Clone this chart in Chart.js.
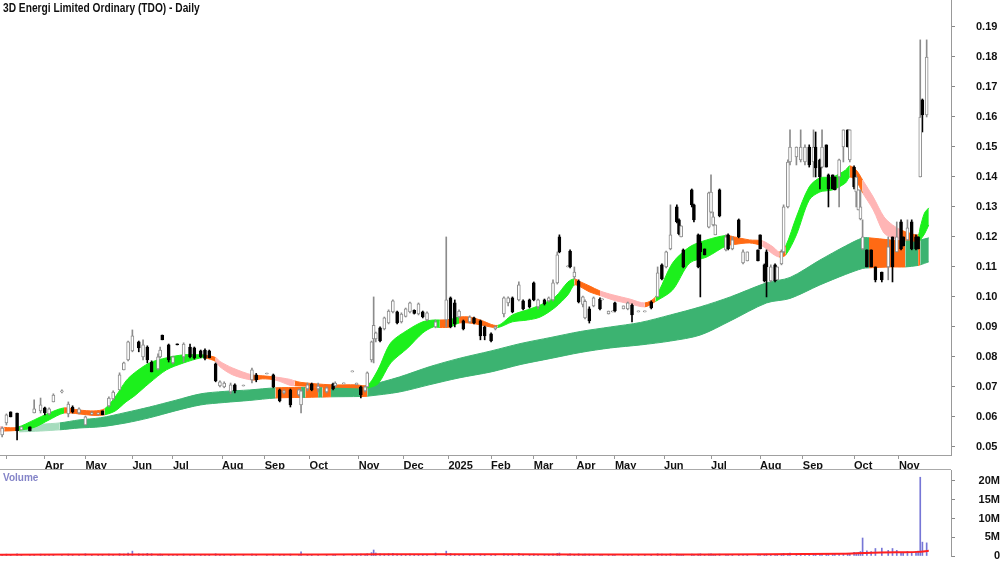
<!DOCTYPE html>
<html lang="en">
<head>
<meta charset="UTF-8">
<title>3D Energi Limited Ordinary (TDO) - Daily</title>
<style>
  body { margin: 0; background: #fff; }
  #wrap { position: relative; width: 1000px; height: 562px; font-family: "Liberation Sans", Arial, sans-serif; overflow: hidden; }
  #priceBox { position: absolute; left: 0; top: 0; width: 1000px; height: 470px; }
  #volBox { position: absolute; left: 0; top: 470px; width: 1000px; height: 92px; }
  #sep { position: absolute; left: 0; top: 469px; width: 951px; height: 1px; background: #aaa; }
  #title { position: absolute; left: 3px; top: 1px; font-weight: bold; font-size: 12px; line-height: 14px; color: #111;
           white-space: nowrap; transform: scaleX(0.85); transform-origin: left top; }
  #volTitle { position: absolute; left: 3px; top: 472px; font-weight: bold; font-size: 10px; color: #8484c8; }
</style>
</head>
<body>
<div id="wrap">
  <div id="priceBox"><canvas id="priceChart" width="1000" height="470"></canvas></div>
  <div id="sep"></div>
  <div id="volBox"><canvas id="volChart" width="1000" height="92"></canvas></div>
  <div id="title">3D Energi Limited Ordinary (TDO) - Daily</div>
  <div id="volTitle">Volume</div>
</div>

<script src="https://cdn.jsdelivr.net/npm/chart.js@4.4.1/dist/chart.umd.min.js"></script>
<script>
// ---- month axis (trading-day index) ----
var monthDays   = [3, 21, 40, 62, 81, 104, 124, 145, 168, 189, 210, 230, 250, 270, 288, 311, 333, 356, 376, 400, 421];
var monthLabels = ['', 'Apr', 'May', 'Jun', 'Jul', 'Aug', 'Sep', 'Oct', 'Nov', 'Dec', '2025', 'Feb', 'Mar', 'Apr', 'May', 'Jun', 'Jul', 'Aug', 'Sep', 'Oct', 'Nov'];
var priceTicks  = [0.05, 0.06, 0.07, 0.08, 0.09, 0.10, 0.11, 0.12, 0.13, 0.14, 0.15, 0.16, 0.17, 0.18, 0.19];
var volTicks    = [0, 5, 10, 15, 20];   // millions

// ---- daily bars ----
var candleDay = [
  1,3,5,8,10,14,16,19,21,23,
  25,29,32,34,37,40,43,46,48,51,
  53,56,58,60,62,65,67,69,71,74,
  75,76,79,81,83,86,89,91,94,96,
  98,101,103,105,108,110,114,118,120,125,
  128,131,133,136,140,141,144,146,149,153,
  156,157,161,165,167,169,171,172,174,175,
  176,178,180,182,184,186,188,190,192,194,
  196,198,200,204,209,211,213,215,217,220,
  222,225,227,230,232,236,238,240,243,245,
  248,250,252,255,257,259,261,262,266,267,
  269,271,273,274,276,278,281,282,285,287,
  288,292,294,296,299,302,305,308,310,312,
  314,317,318,319,320,324,325,327,328,330,
  332,333,334,335,337,340,341,343,346,348,
  350,355,356,358,359,361,363,364,366,367,
  369,370,373,375,377,379,381,382,384,385,
  387,388,390,391,393,395,397,398,400,401,
  402,403,404,406,408,410,413,416,418,420,
  422,423,425,427,429,430,431,432,434
];
var candleOpen = [
  .0540,.0580,.0617,.0613,.0557,.0567,.0613,.0620,.0630,.0610,
  .0650,.0683,.0610,.0633,.0613,.0573,.0610,.0610,.0620,.0637,
  .0660,.0690,.0757,.0790,.0820,.0850,.0800,.0833,.0783,.0760,
  .0800,.0873,.0840,.0780,.0843,.0800,.0833,.0830,.0820,.0823,
  .0820,.0777,.0703,.0700,.0683,.0707,.0703,.0723,.0740,.0743,
  .0740,.0690,.0680,.0690,.0673,.0640,.0693,.0710,.0693,.0683,
  .0710,.0703,.0710,.0750,.0707,.0700,.0687,.0700,.0790,.0860,
  .0860,.0897,.0893,.0913,.0950,.0950,.0917,.0935,.0950,.0955,
  .0943,.0950,.0923,.0900,.0923,.0997,.0980,.0933,.0920,.0917,
  .0930,.0920,.0900,.0877,.0893,.0943,.0980,.0997,.0990,.0987,
  .0990,.1047,.0967,.0990,.0987,.0990,.1047,.1200,.1100,.1153,
  .1067,.1053,.0975,.0930,.0960,.0970,.0993,.0990,.0943,.0950,
  .0980,.0960,.0960,.0973,.0950,.0950,.0983,.1000,.1107,.1100,
  .1160,.1300,.1257,.1200,.1157,.1357,.1307,.1207,.1180,.1160,
  .1233,.1283,.1240,.1207,.1357,.1157,.1207,.1160,.1257,.1113,
  .1120,.1157,.1207,.1107,.1150,.1053,.1107,.1057,.1110,.1150,
  .1300,.1450,.1467,.1457,.1450,.1500,.1450,.1500,.1457,.1433,
  .1507,.1407,.1407,.1400,.1400,.1500,.1557,.1457,.1433,.1350,
  .1290,.1260,.1160,.1157,.1157,.1100,.1083,.1100,.1200,.1150,
  .1250,.1200,.1190,.1250,.1200,.1200,.1400,.1657,.1607
];
var candleHigh = [
  .0567,.0610,.0617,.0613,.0567,.0567,.0657,.0663,.0633,.0630,
  .0677,.0690,.0650,.0637,.0630,.0603,.0617,.0613,.0620,.0667,
  .0687,.0747,.0783,.0853,.0890,.0853,.0857,.0837,.0787,.0810,
  .0833,.0873,.0843,.0803,.0843,.0847,.0843,.0833,.0823,.0827,
  .0823,.0780,.0720,.0717,.0713,.0710,.0703,.0763,.0745,.0743,
  .0743,.0693,.0690,.0693,.0693,.0690,.0713,.0713,.0713,.0700,
  .0713,.0717,.0710,.0750,.0713,.0703,.0703,.0750,.0853,.1000,
  .0883,.0900,.0933,.0957,.0990,.0953,.0947,.0963,.0983,.0957,
  .0980,.0953,.0950,.0923,.1200,.1000,.0990,.0957,.0923,.0937,
  .0933,.0923,.0903,.0880,.0903,.1000,.1000,.1000,.1050,.0990,
  .0993,.1050,.0993,.0993,.1000,.1057,.1150,.1207,.1100,.1157,
  .1100,.1057,.1003,.0990,.0967,.1000,.0997,.0990,.0953,.0953,
  .0983,.0970,.0983,.0977,.0950,.0950,.0987,.1100,.1110,.1153,
  .1307,.1307,.1260,.1237,.1160,.1360,.1310,.1210,.1207,.1160,
  .1350,.1407,.1283,.1240,.1360,.1207,.1210,.1200,.1260,.1157,
  .1150,.1157,.1207,.1110,.1157,.1107,.1110,.1100,.1157,.1307,
  .1457,.1557,.1500,.1557,.1507,.1507,.1557,.1550,.1460,.1557,
  .1507,.1410,.1407,.1400,.1460,.1557,.1557,.1557,.1437,.1407,
  .1357,.1357,.1257,.1157,.1157,.1100,.1083,.1200,.1200,.1250,
  .1257,.1200,.1257,.1257,.1207,.1200,.1857,.1660,.1857
];
var candleLow = [
  .0533,.0573,.0600,.0523,.0557,.0553,.0613,.0613,.0607,.0607,
  .0650,.0680,.0600,.0613,.0610,.0573,.0607,.0607,.0607,.0633,
  .0657,.0690,.0757,.0787,.0817,.0817,.0790,.0780,.0750,.0757,
  .0797,.0857,.0783,.0777,.0840,.0783,.0797,.0793,.0797,.0790,
  .0797,.0717,.0700,.0697,.0677,.0680,.0703,.0713,.0717,.0743,
  .0697,.0650,.0677,.0633,.0670,.0613,.0687,.0687,.0683,.0680,
  .0690,.0700,.0710,.0750,.0707,.0663,.0683,.0700,.0783,.0780,
  .0850,.0850,.0890,.0910,.0947,.0910,.0913,.0933,.0947,.0943,
  .0940,.0930,.0920,.0897,.0900,.0897,.0900,.0930,.0890,.0913,
  .0910,.0857,.0857,.0850,.0890,.0933,.0970,.0947,.0987,.0957,
  .0963,.0987,.0960,.0973,.0983,.0987,.1043,.1147,.1100,.1097,
  .1060,.0980,.0967,.0927,.0913,.0967,.0957,.0990,.0943,.0950,
  .0950,.0960,.0957,.0917,.0950,.0950,.0960,.1000,.1057,.1097,
  .1157,.1247,.1207,.1200,.1097,.1300,.1250,.1097,.1000,.1140,
  .1230,.1280,.1237,.1207,.1267,.1153,.1157,.1157,.1197,.1110,
  .1120,.1120,.1160,.1050,.1000,.1050,.1050,.1057,.1107,.1147,
  .1297,.1440,.1440,.1450,.1440,.1433,.1400,.1400,.1360,.1430,
  .1433,.1300,.1360,.1357,.1300,.1450,.1500,.1450,.1360,.1300,
  .1290,.1257,.1157,.1100,.1100,.1050,.1050,.1057,.1050,.1150,
  .1157,.1170,.1190,.1157,.1157,.1160,.1400,.1550,.1600
];
var candleClose = [
  .0563,.0607,.0600,.0553,.0567,.0553,.0627,.0640,.0613,.0627,
  .0673,.0687,.0643,.0617,.0627,.0600,.0613,.0610,.0607,.0663,
  .0683,.0740,.0780,.0850,.0870,.0830,.0840,.0790,.0750,.0800,
  .0823,.0857,.0790,.0800,.0840,.0843,.0800,.0797,.0800,.0795,
  .0797,.0720,.0717,.0713,.0707,.0687,.0703,.0757,.0723,.0743,
  .0700,.0653,.0687,.0640,.0690,.0687,.0707,.0690,.0703,.0697,
  .0693,.0713,.0710,.0750,.0713,.0673,.0700,.0747,.0850,.0905,
  .0880,.0853,.0930,.0953,.0987,.0913,.0943,.0960,.0980,.0945,
  .0977,.0933,.0947,.0917,.0990,.0900,.0910,.0953,.0893,.0933,
  .0913,.0870,.0870,.0853,.0900,.0997,.0997,.0950,.1040,.0960,
  .0967,.0990,.0990,.0977,.0997,.1047,.1140,.1150,.1100,.1100,
  .1083,.0983,.1000,.0985,.0920,.0997,.0960,.0990,.0953,.0953,
  .0953,.0970,.0980,.0940,.0950,.0950,.0963,.1080,.1060,.1150,
  .1207,.1250,.1210,.1237,.1100,.1307,.1257,.1100,.1150,.1140,
  .1347,.1350,.1267,.1240,.1270,.1200,.1160,.1190,.1200,.1150,
  .1150,.1120,.1160,.1053,.1100,.1100,.1053,.1100,.1150,.1300,
  .1450,.1500,.1500,.1500,.1500,.1440,.1500,.1430,.1400,.1500,
  .1433,.1360,.1360,.1357,.1457,.1557,.1500,.1557,.1367,.1400,
  .1357,.1300,.1200,.1100,.1100,.1057,.1057,.1167,.1100,.1200,
  .1160,.1170,.1230,.1160,.1160,.1160,.1600,.1607,.1800
];
// volume in millions, one per bar above
var volume = [
  0.3,0.5,0.2,0.6,0.2,0.3,0.4,0.5,0.2,0.3,
  0.4,0.2,0.5,0.3,0.2,0.6,0.2,0.1,0.3,0.5,
  0.4,0.6,0.5,0.8,1.3,0.6,0.5,0.7,0.6,0.4,
  0.5,0.3,0.4,0.3,0.2,0.5,0.4,0.3,0.3,0.4,
  0.3,0.6,0.3,0.2,0.4,0.3,0.2,0.5,0.3,0.2,
  0.5,0.4,0.3,0.5,0.3,1.1,0.4,0.3,0.3,0.2,
  0.3,0.3,0.2,0.1,0.2,0.5,0.3,0.6,0.9,1.6,
  0.8,0.6,0.5,0.6,0.7,0.5,0.4,0.4,0.5,0.3,
  0.4,0.3,0.4,0.8,1.3,0.7,0.5,0.3,0.4,0.3,
  0.4,0.5,0.4,0.3,0.2,0.6,0.4,0.5,0.7,0.4,
  0.3,0.5,0.4,0.3,0.3,0.5,0.7,0.8,0.2,0.6,
  0.4,0.6,0.4,0.5,0.5,0.4,0.3,0.2,0.3,0.2,
  0.3,0.2,0.3,0.4,0.1,0.1,0.3,0.6,0.5,0.4,
  0.6,0.5,0.4,0.3,0.4,0.5,0.4,0.5,0.6,0.3,
  0.5,0.6,0.4,0.3,0.5,0.4,0.3,0.4,0.4,0.3,
  0.2,0.3,0.3,0.4,0.5,0.4,0.3,0.3,0.5,0.7,
  0.6,0.8,0.5,0.6,0.5,0.6,0.5,0.6,0.5,0.5,
  0.6,0.5,0.4,0.5,0.6,0.7,0.6,0.6,1.0,0.8,
  0.9,1.2,4.8,1.4,1.2,2.0,2.1,1.5,2.0,1.5,
  1.0,0.9,1.2,1.0,1.1,1.3,21.0,3.7,3.5
];
var volAvgDay = [0, 60, 120, 180, 240, 300, 360, 395, 405, 420, 430, 435];
var volAvg    = [0.35, 0.4, 0.4, 0.45, 0.45, 0.4, 0.45, 0.6, 0.8, 1.0, 1.1, 1.4];

// ---- short-term moving average band (upper / lower edge, trend state g=up o=mixed p=down) ----
var shortDay = [
  0,2,8,16,23,30,37,44,49,54,
  59,63,70,78,86,94,96,101,103,109,
  118,123,129,136,138,141,155,167,172,177,
  183,191,198,203,206,211,215,220,225,233,
  240,247,253,260,266,269,272,276,281,287,
  295,302,307,315,323,331,340,344,351,357,
  362,365,368,373,379,384,390,396,398,401,
  404,409,414,418,422,426,430,431,433,435
];
var shortUp = [
  .0567,.0565,.0565,.0590,.0613,.0630,.0623,.0620,.0627,.0667,
  .0720,.0747,.0780,.0797,.0807,.0807,.0806,.0798,.0785,.0763,
  .0740,.0737,.0733,.0725,.0720,.0715,.0707,.0707,.0705,.0757,
  .0847,.0890,.0917,.0923,.0923,.0925,.0933,.0933,.0923,.0905,
  .0940,.0957,.0973,.1000,.1050,.1060,.1050,.1037,.1020,.1007,
  .0993,.0980,.1000,.1113,.1167,.1190,.1205,.1200,.1190,.1187,
  .1167,.1150,.1170,.1267,.1367,.1397,.1400,.1423,.1437,.1423,
  .1390,.1333,.1267,.1240,.1223,.1213,.1207,.1233,.1280,.1297
];
var shortLo = [
  .0553,.0553,.0555,.0565,.0590,.0613,.0610,.0605,.0607,.0620,
  .0650,.0670,.0713,.0757,.0780,.0797,.0797,.0785,.0767,.0740,
  .0723,.0727,.0723,.0705,.0704,.0703,.0700,.0697,.0697,.0710,
  .0780,.0830,.0880,.0900,.0898,.0900,.0913,.0913,.0907,.0898,
  .0917,.0923,.0933,.0965,.1007,.1040,.1033,.1017,.1005,.0990,
  .0977,.0967,.0985,.1023,.1113,.1133,.1170,.1175,.1180,.1170,
  .1143,.1133,.1140,.1207,.1323,.1350,.1357,.1380,.1400,.1387,
  .1347,.1290,.1213,.1197,.1190,.1190,.1183,.1190,.1210,.1240
];
var shortState = [
  'p','o','g','g','g','o','o','o','g','g',
  'g','g','g','g','g','g','o','p','p','p',
  'o','o','p','p','o','o','o','o','g','g',
  'g','g','g','g','o','g','o','o','o','g',
  'g','g','g','g','g','o','o','o','p','p',
  'p','o','g','g','g','g','o','o','o','p',
  'p','o','g','g','g','g','g','g','o','o',
  'p','p','p','p','o','o','g','g','g','g'
];

// ---- long-term moving average band ----
var longDay = [
  9,19,28,37,47,59,70,82,94,105,
  117,129,141,143,149,151,155,169,172,187,
  201,215,230,244,258,272,286,300,314,328,
  342,359,370,384,396,404,407,417,424,430,
  431,435
];
var longUp = [
  .0562,.0575,.0580,.0590,.0597,.0615,.0633,.0655,.0677,.0685,
  .0690,.0697,.0698,.0698,.0699,.0700,.0700,.0702,.0704,.0733,
  .0767,.0795,.0820,.0845,.0865,.0885,.0900,.0915,.0940,.0967,
  .1000,.1047,.1065,.1123,.1170,.1197,.1197,.1190,.1187,.1190,
  .1190,.1197
];
var longLo = [
  .0550,.0553,.0557,.0563,.0567,.0580,.0597,.0620,.0640,.0648,
  .0655,.0663,.0665,.0665,.0666,.0666,.0667,.0668,.0669,.0683,
  .0707,.0730,.0750,.0775,.0795,.0815,.0830,.0840,.0853,.0873,
  .0920,.0980,.0995,.1040,.1075,.1095,.1097,.1100,.1100,.1105,
  .1107,.1117
];
var longState = [
  'f','f','g','g','g','g','g','g','g','g',
  'g','o','g','o','g','o','g','o','g','g',
  'g','g','g','g','g','g','g','g','g','g',
  'g','g','g','g','g','g','o','o','g','o',
  'g','g'
];

// ---------------------------------------------------------------
var shortColors = { g: '#1cf01c', o: '#ff6a14', p: '#ffb5b5' };
var longColors  = { g: '#3cb371', o: '#ff6a14', f: '#a6dcbd' };
var X_MAX = 445.4;
var AXIS_W = 49;
var FONT = { family: "'Liberation Sans', Arial, sans-serif", size: 11, weight: 'bold' };

Chart.defaults.font.family = FONT.family;
Chart.defaults.animation = false;

function isUp(i) { return candleClose[i] >= candleOpen[i]; }

function pts(days, vals) {
  return days.map(function (d, i) { return { x: d, y: vals[i] }; });
}

function bandLine(days, vals, states, colors, order, fill) {
  return {
    type: 'line',
    data: pts(days, vals),
    borderWidth: 1,
    pointRadius: 0,
    tension: 0.3,
    order: order,
    fill: fill,
    borderColor: colors.g,
    backgroundColor: colors.g,
    segment: {
      borderColor: function (c) { return colors[states[c.p0DataIndex]]; },
      backgroundColor: function (c) { return colors[states[c.p0DataIndex]]; }
    }
  };
}

function noPad(axis) {
  axis.paddingTop = 0; axis.paddingBottom = 0;
  axis.paddingLeft = 0; axis.paddingRight = 0;
}

var wickData = candleDay.map(function (d, i) { return { x: d, y: [candleLow[i], candleHigh[i]] }; });
var bodyData = candleDay.map(function (d, i) {
  return { x: d, y: [Math.min(candleOpen[i], candleClose[i]), Math.max(candleOpen[i], candleClose[i])] };
});

new Chart(document.getElementById('priceChart'), {
  type: 'bar',
  data: {
    datasets: [
      {
        data: bodyData, order: 0, grouped: false, barThickness: 3, minBarLength: 1,
        borderWidth: 1, borderSkipped: false,
        backgroundColor: function (c) { return isUp(c.dataIndex) ? '#ffffff' : '#000000'; },
        borderColor: function (c) { return isUp(c.dataIndex) ? '#8c8c8c' : '#000000'; }
      },
      {
        data: wickData, order: 1, grouped: false, barThickness: 1, minBarLength: 1, borderWidth: 0,
        backgroundColor: function (c) { return isUp(c.dataIndex) ? '#8c8c8c' : '#000000'; }
      },
      bandLine(shortDay, shortUp, shortState, shortColors, 2, false),
      bandLine(shortDay, shortLo, shortState, shortColors, 3, '-1'),
      bandLine(longDay, longUp, longState, longColors, 4, false),
      bandLine(longDay, longLo, longState, longColors, 5, '-1')
    ]
  },
  options: {
    responsive: false,
    layout: { padding: 0 },
    plugins: { legend: { display: false }, tooltip: { enabled: false } },
    scales: {
      x: {
        type: 'linear', min: 0, max: X_MAX, offset: false,
        grid: { offset: false, drawOnChartArea: false, drawTicks: true, tickLength: 4, color: '#999' },
        border: { color: '#a0a0a0', width: 1 },
        afterBuildTicks: function (axis) { axis.ticks = monthDays.map(function (d) { return { value: d }; }); },
        afterFit: function (axis) { axis.height = 15; noPad(axis); },
        ticks: {
          autoSkip: false, maxRotation: 0, minRotation: 0, align: 'start', padding: 0,
          color: '#111', font: FONT,
          callback: function (v, i) { return monthLabels[i]; }
        }
      },
      y: {
        type: 'linear', position: 'right', min: 0.0473, max: 0.199, beginAtZero: false,
        grid: { drawOnChartArea: false, drawTicks: true, tickLength: 4, color: '#888' },
        border: { color: '#999', width: 1 },
        afterBuildTicks: function (axis) { axis.ticks = priceTicks.map(function (v) { return { value: v }; }); },
        afterFit: function (axis) { axis.width = AXIS_W; noPad(axis); },
        ticks: {
          padding: 21, color: '#111', font: FONT,
          callback: function (v) { return v.toFixed(2); }
        }
      }
    }
  }
});

new Chart(document.getElementById('volChart'), {
  type: 'bar',
  data: {
    datasets: [
      {
        type: 'line', data: pts(volAvgDay, volAvg), order: 0,
        borderColor: '#ff2020', borderWidth: 2, pointRadius: 0, tension: 0.3
      },
      {
        data: pts(candleDay, volume), order: 1, grouped: false,
        barThickness: 1, minBarLength: 1, backgroundColor: '#7676d6', borderWidth: 0
      }
    ]
  },
  options: {
    responsive: false,
    layout: { padding: { top: 0, bottom: 6, left: 0, right: 0 } },
    plugins: { legend: { display: false }, tooltip: { enabled: false } },
    scales: {
      x: { type: 'linear', min: 0, max: X_MAX, offset: false, display: false },
      y: {
        type: 'linear', position: 'right', min: 0, max: 22.93, beginAtZero: true,
        grid: { drawOnChartArea: false, drawTicks: true, tickLength: 4, color: '#888' },
        border: { color: '#999', width: 1 },
        afterBuildTicks: function (axis) { axis.ticks = volTicks.map(function (v) { return { value: v }; }); },
        afterFit: function (axis) { axis.width = AXIS_W; noPad(axis); },
        ticks: {
          padding: 21, crossAlign: 'far', color: '#111', font: FONT,
          callback: function (v) { return v === 0 ? '0' : v + 'M'; }
        }
      }
    }
  }
});
</script>
</body>
</html>
